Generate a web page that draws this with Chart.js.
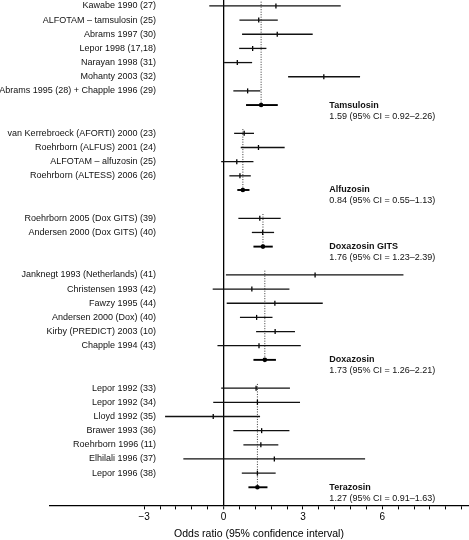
<!DOCTYPE html>
<html>
<head>
<meta charset="utf-8">
<script src="https://cdn.jsdelivr.net/npm/chart.js@4.4.1/dist/chart.umd.min.js"></script>
<style>
  html, body { margin: 0; padding: 0; background: #fff; }
  #wrap { width: 469px; height: 540px; position: relative; }
</style>
</head>
<body>
<div id="wrap"><canvas id="forest-plot"></canvas></div>
<script>
const FONT = '"Liberation Sans", Arial, Helvetica, sans-serif';

const tamsulosinStudies = ['Kawabe 1990 (27)', 'ALFOTAM – tamsulosin (25)', 'Abrams 1997 (30)', 'Lepor 1998 (17,18)',
  'Narayan 1998 (31)', 'Mohanty 2003 (32)', 'Abrams 1995 (28) + Chapple 1996 (29)'];
const tamsulosinOR = [1.98, 1.33, 2.03, 1.10, 0.52, 3.79, 0.91];
const tamsulosinLow = [-0.54, 0.60, 0.70, 0.59, 0.02, 2.44, 0.37];
const tamsulosinHigh = [4.43, 2.05, 3.37, 1.62, 1.08, 5.16, 1.39];

const alfuzosinStudies = ['van Kerrebroeck (AFORTI) 2000 (23)', 'Roehrborn (ALFUS) 2001 (24)', 'ALFOTAM – alfuzosin (25)',
  'Roehrborn (ALTESS) 2006 (26)'];
const alfuzosinOR = [0.78, 1.32, 0.50, 0.62];
const alfuzosinLow = [0.40, 0.65, -0.09, 0.22];
const alfuzosinHigh = [1.15, 2.31, 1.13, 1.03];

const gitsStudies = ['Roehrborn 2005 (Dox GITS) (39)', 'Andersen 2000 (Dox GITS) (40)'];
const gitsOR = [1.37, 1.48];
const gitsLow = [0.56, 1.07];
const gitsHigh = [2.16, 1.91];

const doxazosinStudies = ['Janknegt 1993 (Netherlands) (41)', 'Christensen 1993 (42)', 'Fawzy 1995 (44)',
  'Andersen 2000 (Dox) (40)', 'Kirby (PREDICT) 2003 (10)', 'Chapple 1994 (43)'];
const doxazosinOR = [3.46, 1.07, 1.94, 1.25, 1.95, 1.34];
const doxazosinLow = [0.09, -0.41, 0.12, 0.62, 1.23, -0.23];
const doxazosinHigh = [6.80, 2.49, 3.75, 1.85, 2.70, 2.92];

const terazosinStudies = ['Lepor 1992 (33)', 'Lepor 1992 (34)', 'Lloyd 1992 (35)', 'Brawer 1993 (36)',
  'Roehrborn 1996 (11)', 'Elhilali 1996 (37)', 'Lepor 1996 (38)'];
const terazosinOR = [1.23, 1.28, -0.39, 1.44, 1.41, 1.92, 1.28];
const terazosinLow = [-0.09, -0.39, -2.21, 0.37, 0.75, -1.52, 0.69];
const terazosinHigh = [2.51, 2.89, 1.38, 2.49, 2.07, 5.35, 1.97];

const groupNames = ['Tamsulosin', 'Alfuzosin', 'Doxazosin GITS', 'Doxazosin', 'Terazosin'];
const groupSummaries = ['1.59 (95% CI = 0.92–2.26)', '0.84 (95% CI = 0.55–1.13)', '1.76 (95% CI = 1.23–2.39)',
  '1.73 (95% CI = 1.26–2.21)', '1.27 (95% CI = 0.91–1.63)'];
const pooledOR = [1.42, 0.73, 1.49, 1.56, 1.28];
const pooledLow = [0.85, 0.52, 1.13, 1.13, 0.94];
const pooledHigh = [2.05, 0.98, 1.86, 1.98, 1.66];

const axisTicks = [-3, -2.4, -1.8, -1.2, -0.6, 0, 0.6, 1.2, 1.8, 2.4, 3, 3.6, 4.2, 4.8, 5.4, 6, 6.6, 7.2, 7.8, 8.4, 9];
const axisLabels = [-3, 0, 3, 6];

const groups = [
  { studies: tamsulosinStudies, or: tamsulosinOR, low: tamsulosinLow, high: tamsulosinHigh },
  { studies: alfuzosinStudies, or: alfuzosinOR, low: alfuzosinLow, high: alfuzosinHigh },
  { studies: gitsStudies, or: gitsOR, low: gitsLow, high: gitsHigh },
  { studies: doxazosinStudies, or: doxazosinOR, low: doxazosinLow, high: doxazosinHigh },
  { studies: terazosinStudies, or: terazosinOR, low: terazosinLow, high: terazosinHigh }
];

// one row per study, pooled row after each group, then an empty row
const studyBars = [], studyPoints = [], pooledBars = [], pooledPoints = [];
const rowLabels = [], summaryRows = [], guideLines = [];
let row = 0;
groups.forEach((g, gi) => {
  const first = row;
  g.studies.forEach((name, i) => {
    studyBars.push({ y: row, x: [g.low[i], g.high[i]] });
    studyPoints.push({ x: g.or[i], y: row });
    rowLabels.push({ text: name, y: row });
    row++;
  });
  pooledBars.push({ y: row, x: [pooledLow[gi], pooledHigh[gi]] });
  pooledPoints.push({ x: pooledOR[gi], y: row });
  guideLines.push([{ x: pooledOR[gi], y: first - 0.3 }, { x: pooledOR[gi], y: row }]);
  summaryRows.push(row);
  row += 2;
});

const labelPlugin = {
  id: 'rowLabels',
  afterDatasetsDraw(chart) {
    const { ctx, chartArea } = chart;
    const xs = chart.scales.x, ys = chart.scales.y;
    ctx.save();
    ctx.fillStyle = '#111';
    ctx.textBaseline = 'middle';
    ctx.textAlign = 'right';
    ctx.font = '9px ' + FONT;
    rowLabels.forEach(r => ctx.fillText(r.text, chartArea.left + 106, ys.getPixelForValue(r.y)));
    ctx.textAlign = 'left';
    summaryRows.forEach((r, gi) => {
      const py = ys.getPixelForValue(r);
      const px = xs.getPixelForValue(4);
      ctx.font = 'bold 9px ' + FONT;
      ctx.fillText(groupNames[gi], px, py);
      ctx.font = '9px ' + FONT;
      ctx.fillText(groupSummaries[gi], px, py + 11);
    });
    ctx.restore();
  }
};

const datasets = [
  {
    type: 'bar', data: studyBars, backgroundColor: '#111', barThickness: 1.3,
    grouped: false, borderWidth: 0, inflateAmount: 0, clip: false
  },
  {
    type: 'bar', data: pooledBars, backgroundColor: '#000', barThickness: 1.9,
    grouped: false, borderWidth: 0, inflateAmount: 0, clip: false
  },
  {
    type: 'scatter', data: studyPoints, pointStyle: 'line', rotation: 90, pointRadius: 2.5,
    borderColor: '#000', borderWidth: 1.3, clip: false
  },
  {
    type: 'scatter', data: pooledPoints, pointStyle: 'circle', pointRadius: 2.3,
    backgroundColor: '#000', borderWidth: 0, clip: false
  }
];
guideLines.forEach(line => {
  datasets.push({
    type: 'line', data: line, borderColor: '#333', borderWidth: 1, borderDash: [1, 1.5],
    pointRadius: 0, fill: false, clip: false
  });
});

new Chart(document.getElementById('forest-plot'), {
  type: 'bar',
  data: { datasets },
  options: {
    indexAxis: 'y',
    responsive: true,
    maintainAspectRatio: false,
    animation: false,
    events: [],
    layout: { autoPadding: false, padding: { left: 50, right: 1, top: 0, bottom: 0 } },
    scales: {
      x: {
        type: 'linear',
        min: -6.56,
        max: 9.24,
        bounds: 'data',
        offset: false,
        afterBuildTicks: scale => { scale.ticks = axisTicks.map(v => ({ value: v })); },
        grid: {
          offset: false,
          drawOnChartArea: true,
          color: c => (c.tick && c.tick.value === 0 ? '#000' : 'rgba(0,0,0,0)'),
          lineWidth: c => (c.tick && c.tick.value === 0 ? 1.3 : 1),
          tickColor: '#000',
          tickWidth: 1,
          tickLength: 4
        },
        border: { display: true, color: '#000', width: 1.3 },
        ticks: {
          autoSkip: false,
          maxRotation: 0,
          padding: 2,
          color: '#000',
          font: { family: FONT, size: 10 },
          callback: v => (axisLabels.includes(v) ? String(v).replace('-', '−') : '')
        },
        title: {
          display: true,
          text: 'Odds ratio (95% confidence interval)',
          color: '#000',
          font: { family: FONT, size: 10.5 },
          padding: { top: 2, bottom: 0 }
        }
      },
      y: {
        type: 'linear',
        display: false,
        reverse: true,
        offset: false,
        grid: { offset: false },
        min: -0.42,
        max: 35.28
      }
    },
    plugins: {
      legend: { display: false },
      tooltip: { enabled: false }
    }
  },
  plugins: [labelPlugin]
});
</script>
</body>
</html>
